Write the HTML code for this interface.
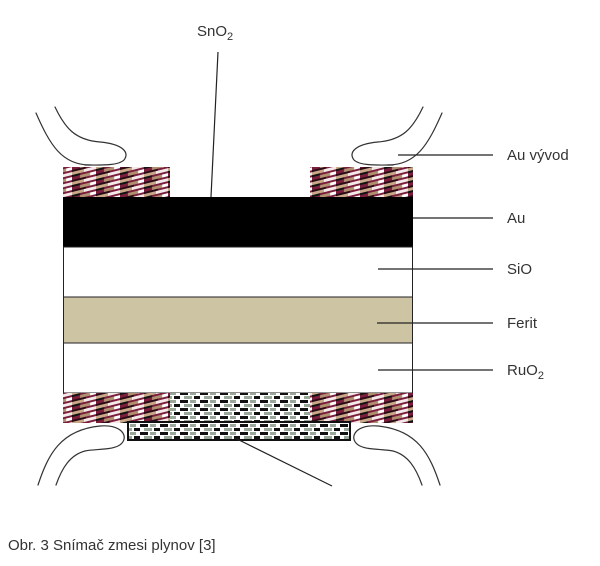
<!DOCTYPE html>
<html><head><meta charset="utf-8"><style>
html,body{margin:0;padding:0;background:#fff;width:600px;height:566px;overflow:hidden}
text{font-family:"Liberation Sans",sans-serif;fill:#333}
</style></head><body>
<svg width="600" height="566" viewBox="0 0 600 566" xmlns="http://www.w3.org/2000/svg">
<defs>
<pattern id="p1" width="24" height="10" patternUnits="userSpaceOnUse" patternTransform="skewY(-14)">
<rect width="24" height="10" fill="#7a1e3c"/>
<rect x="0" y="0" width="12" height="3" fill="#c8a888"/>
<rect x="12" y="0" width="12" height="3" fill="#f4e8e8"/>
<rect x="0" y="3" width="8" height="2" fill="#111"/>
<rect x="8" y="5" width="10" height="3" fill="#b09070"/>
<rect x="18" y="5" width="6" height="3" fill="#fff"/>
<rect x="0" y="8" width="14" height="2" fill="#2a0a14"/>
</pattern>
<pattern id="p2" width="20" height="8" patternUnits="userSpaceOnUse">
<rect width="20" height="8" fill="#fff"/>
<rect x="0" y="0" width="8" height="3" fill="#111"/>
<rect x="10" y="0" width="6" height="3" fill="#9aa89a"/>
<rect x="4" y="4" width="8" height="3" fill="#9aa89a"/>
<rect x="14" y="4" width="6" height="3" fill="#111"/>
</pattern>
<g id="lead" fill="none" stroke="#333" stroke-width="1.2" stroke-linecap="round">
<path d="M55,107 C65,128 75,140 100,142 C122,144 130,152 124,160 C118,166 100,165 85,165"/>
<path d="M36,113 C50,145 62,165 90,165"/>
</g>
<g id="blead" fill="none" stroke="#333" stroke-width="1.2" stroke-linecap="round">
<path d="M38,485 C48,455 60,430 100,426 C125,424 130,440 118,446 C110,450 95,449 85,451 C70,455 62,468 56,485"/>
</g>
</defs>
<use href="#lead"/>
<use href="#lead" transform="translate(478,0) scale(-1,1)"/>
<!-- top pads -->
<rect x="63" y="167" width="107" height="30" fill="url(#p1)"/>
<rect x="310" y="167" width="103" height="30" fill="url(#p1)"/>
<!-- layers -->
<rect x="63" y="197" width="350" height="50" fill="#000"/>
<rect x="63.5" y="247" width="349" height="50" fill="#fff" stroke="#222" stroke-width="1"/>
<rect x="63.5" y="297" width="349" height="46" fill="#cdc4a4" stroke="#222" stroke-width="1"/>
<rect x="63.5" y="343" width="349" height="50" fill="#fff" stroke="#222" stroke-width="1"/>
<!-- bottom -->
<rect x="63" y="393" width="107" height="30" fill="url(#p1)"/>
<rect x="310" y="393" width="103" height="30" fill="url(#p1)"/>
<rect x="170" y="393" width="140" height="30" fill="url(#p2)"/>
<rect x="128" y="422" width="222" height="18" fill="url(#p2)" stroke="#111" stroke-width="2"/>
<use href="#blead"/>
<use href="#blead" transform="translate(478,0) scale(-1,1)"/>
<!-- leader lines -->
<g stroke="#222" stroke-width="1.2">
<line x1="218" y1="52" x2="211" y2="197"/>
<line x1="398" y1="155" x2="493" y2="155"/>
<line x1="413" y1="218" x2="493" y2="218"/>
<line x1="378" y1="269" x2="493" y2="269"/>
<line x1="377" y1="323" x2="493" y2="323"/>
<line x1="378" y1="370" x2="493" y2="370"/>
<line x1="235" y1="438" x2="332" y2="486"/>
</g>
<!-- labels -->
<g font-size="15">
<text x="197" y="36">SnO<tspan font-size="11" dy="4">2</tspan></text>
<text x="507" y="160">Au vývod</text>
<text x="507" y="223">Au</text>
<text x="507" y="274">SiO</text>
<text x="507" y="328">Ferit</text>
<text x="507" y="375">RuO<tspan font-size="11" dy="4">2</tspan></text>
<text x="8" y="550">Obr. 3  Snímač zmesi plynov [3]</text>
</g>
</svg>
</body></html>
